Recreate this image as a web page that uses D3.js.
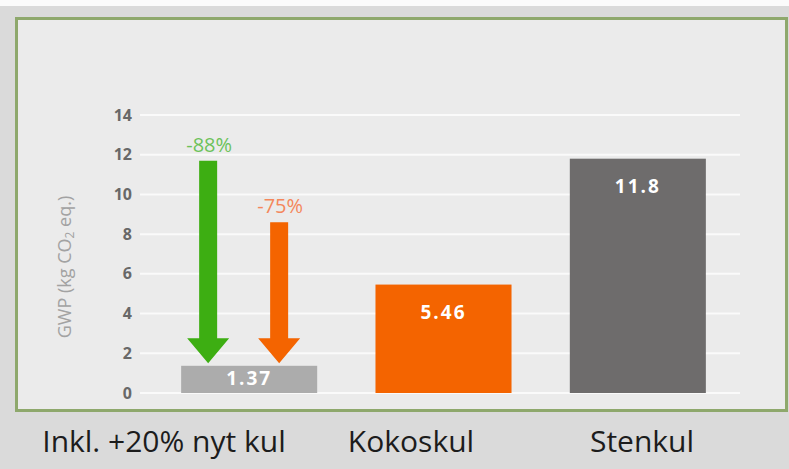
<!DOCTYPE html>
<html>
<head>
    <meta charset="utf-8" />
    <title>GWP</title>
    <script src="https://d3js.org/d3.v7.min.js"></script>
    <style>
        body { margin: 0; background: #dadada; }
        svg { display: block; font-family: "Open Sans", sans-serif; }
    </style>
</head>
<body>
<div id="my_dataviz"></div>
<script>
    // data
    const categories = ["Inkl. +20% nyt kul", "Kokoskul", "Stenkul"];
    const values = [1.37, 5.46, 11.8];
    const valueLabels = ["1.37", "5.46", "11.8"];
    const yTicks = [0, 2, 4, 6, 8, 10, 12, 14];
    const arrowLabels = ["-88%", "-75%"];
    const arrowFrom = [11.7, 8.6];
    const arrowTo = [1.5, 1.5];

    const width = 789, height = 469;
    const barColors = ["#acacac", "#f46400", "#6e6c6c"];
    const arrowColors = ["#3dae12", "#f46400"];
    const arrowTextColors = ["#6cc25a", "#f4875c"];

    const svg = d3.select("#my_dataviz")
        .append("svg")
        .attr("width", width)
        .attr("height", height);

    // grey background + panel
    svg.append("rect").attr("width", width).attr("height", height).attr("fill", "#dadada");
    svg.append("rect").attr("width", width).attr("height", 6).attr("fill", "#fbfbfb");
    svg.append("rect")
        .attr("x", 16.5).attr("y", 18.5)
        .attr("width", 770).attr("height", 392)
        .attr("fill", "#ebebeb")
        .attr("stroke", "#8ea86c")
        .attr("stroke-width", 3);

    const y = d3.scaleLinear().domain([0, 14]).range([393, 115]);
    const x = d3.scaleBand()
        .domain(categories)
        .range([152, 735])
        .paddingInner(0.3)
        .paddingOuter(0.15);

    // gridlines
    svg.append("g")
        .selectAll("line")
        .data(yTicks)
        .join("line")
        .attr("x1", 140).attr("x2", 740)
        .attr("y1", d => y(d)).attr("y2", d => y(d))
        .attr("stroke", "#fafafa")
        .attr("stroke-width", 2);

    // y axis labels
    const yAxis = svg.append("g")
        .attr("transform", "translate(140,0)")
        .call(d3.axisLeft(y).tickValues(yTicks).tickSize(0).tickPadding(8));
    yAxis.select(".domain").remove();
    yAxis.selectAll("text")
        .attr("fill", "#686868")
        .style("font-family", "Open Sans")
        .style("font-size", "16px")
        .style("font-weight", "bold");

    svg.append("text")
        .attr("transform", "translate(71,267) rotate(-90)")
        .attr("text-anchor", "middle")
        .attr("fill", "#a2a2a2")
        .style("font-size", "18px")
        .html('GWP (kg CO<tspan font-size="12px" dy="3">2</tspan><tspan dy="-3"> eq.)</tspan>');

    // bars
    svg.append("g")
        .selectAll("rect")
        .data(values)
        .join("rect")
        .attr("x", (d, i) => x(categories[i]))
        .attr("y", d => y(d))
        .attr("width", x.bandwidth())
        .attr("height", d => y(0) - y(d))
        .attr("fill", (d, i) => barColors[i]);

    svg.append("g")
        .selectAll("text")
        .data(values)
        .join("text")
        .attr("x", (d, i) => x(categories[i]) + x.bandwidth() / 2)
        .attr("y", (d, i) => i === 0 ? y(0) - 8 : y(d) + 34)
        .attr("text-anchor", "middle")
        .attr("fill", "#ffffff")
        .style("font-size", "19px")
        .style("font-weight", "bold")
        .style("letter-spacing", "2px")
        .text((d, i) => valueLabels[i]);

    // reduction arrows inside the first band
    const x0 = x(categories[0]);
    const ax = d3.scalePoint().domain(arrowLabels).range([x0 + 27, x0 + 98]);
    const shaft = 9, head = 21, headH = 25;

    function arrowPath(cx, top, tip) {
        const p = d3.path();
        p.moveTo(cx - shaft, top);
        p.lineTo(cx + shaft, top);
        p.lineTo(cx + shaft, tip - headH);
        p.lineTo(cx + head, tip - headH);
        p.lineTo(cx, tip);
        p.lineTo(cx - head, tip - headH);
        p.lineTo(cx - shaft, tip - headH);
        p.closePath();
        return p.toString();
    }

    svg.append("g")
        .selectAll("path")
        .data(arrowLabels)
        .join("path")
        .attr("d", (d, i) => arrowPath(ax(d), y(arrowFrom[i]), y(arrowTo[i])))
        .attr("fill", (d, i) => arrowColors[i]);

    svg.append("g")
        .selectAll("text")
        .data(arrowLabels)
        .join("text")
        .attr("x", d => ax(d) + 1)
        .attr("y", (d, i) => y(arrowFrom[i]) - 9)
        .attr("text-anchor", "middle")
        .attr("fill", (d, i) => arrowTextColors[i])
        .style("font-size", "20px")
        .text(d => d);

    // captions below the panel
    const captionX = d3.scaleOrdinal().domain(categories).range([164, 411, 642]);
    svg.append("g")
        .selectAll("text")
        .data(categories)
        .join("text")
        .attr("x", d => captionX(d))
        .attr("y", 452)
        .attr("text-anchor", "middle")
        .attr("fill", "#1c1c1c")
        .style("font-size", "30px")
        .text(d => d);
</script>
</body>
</html>
